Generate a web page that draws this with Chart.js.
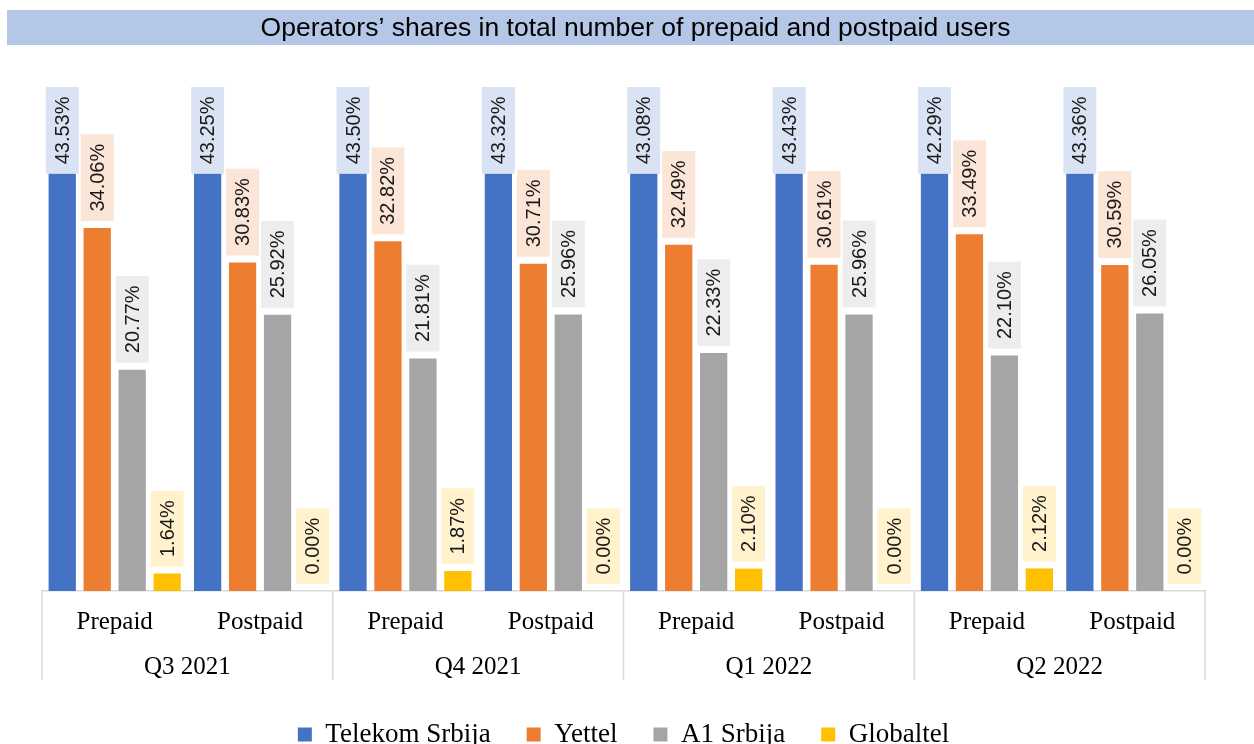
<!DOCTYPE html>
<html>
<head>
<meta charset="utf-8">
<script src="https://cdn.jsdelivr.net/npm/chart.js@4"></script>
<style>
  html, body { margin: 0; padding: 0; background: #fff; }
  #wrap { width: 1254px; height: 744px; }
</style>
</head>
<body>
<div id="wrap"><canvas id="shares"></canvas></div>
<script>
// Chart data.
const chartTitle = 'Operators’ shares in total number of prepaid and postpaid users';
const quarters = ['Q3 2021', 'Q4 2021', 'Q1 2022', 'Q2 2022'];
const userTypes = ['Prepaid', 'Postpaid'];
const operators = ['Telekom Srbija', 'Yettel', 'A1 Srbija', 'Globaltel'];

// Values per bar, in order Q3 pre, Q3 post, Q4 pre, Q4 post, ...
const telekomSrbija = [43.53, 43.25, 43.50, 43.32, 43.08, 43.43, 42.29, 43.36];
const yettel        = [34.06, 30.83, 32.82, 30.71, 32.49, 30.61, 33.49, 30.59];
const a1Srbija      = [20.77, 25.92, 21.81, 25.96, 22.33, 25.96, 22.10, 26.05];
const globaltel     = [1.64, 0.00, 1.87, 0.00, 2.10, 0.00, 2.12, 0.00];

const barColours   = ['#4472c4', '#ed7d31', '#a5a5a5', '#ffc000'];
const labelColours = ['#dae3f3', '#fbe5d6', '#ededed', '#fff2cc'];

// Every quarter has a prepaid and a postpaid bar group.
let xLabels = [];
quarters.forEach(function () {
  userTypes.forEach(function (t) { xLabels.push(t); });
});

let seriesValues = [telekomSrbija, yettel, a1Srbija, globaltel];
let datasets = operators.map(function (name, i) {
  return {
    label: name,
    data: seriesValues[i],
    backgroundColor: barColours[i],
    borderWidth: 0,
    categoryPercentage: 0.962,
    barPercentage: 0.78
  };
});

// Title band across the top.
const titleBand = {
  id: 'titleBand',
  beforeDraw: function (chart) {
    let ctx = chart.ctx;
    ctx.save();
    ctx.fillStyle = '#b4c7e7';
    ctx.fillRect(7, 10, chart.width - 7, 35);
    ctx.fillStyle = '#000';
    ctx.font = '26.5px "Liberation Sans"';
    ctx.textAlign = 'center';
    ctx.textBaseline = 'middle';
    ctx.fillText(chartTitle, (7 + chart.width) / 2 + 5, 29);
    ctx.restore();
  }
};

// Rotated value labels in a pale box above each bar.
const valueLabels = {
  id: 'valueLabels',
  afterDatasetsDraw: function (chart) {
    let ctx = chart.ctx;
    let top = chart.chartArea.top;
    ctx.save();
    ctx.font = '20px "Liberation Sans"';
    chart.data.datasets.forEach(function (ds, i) {
      let meta = chart.getDatasetMeta(i);
      meta.data.forEach(function (bar, j) {
        let text = ds.data[j].toFixed(2) + '%';
        let h = ctx.measureText(text).width + 19;
        let w = 33;
        let boxTop = bar.y - 7 - h;
        if (boxTop < top) boxTop = top;
        ctx.fillStyle = labelColours[i];
        ctx.fillRect(bar.x - w / 2, boxTop, w, h);
        ctx.save();
        ctx.translate(bar.x, boxTop + h / 2);
        ctx.rotate(-Math.PI / 2);
        ctx.fillStyle = '#1a1a1a';
        ctx.textAlign = 'center';
        ctx.textBaseline = 'middle';
        ctx.fillText(text, 0, 1);
        ctx.restore();
      });
    });
    ctx.restore();
  }
};

// Vertical dividers between the quarter groups, under the axis.
const groupLines = {
  id: 'groupLines',
  afterDraw: function (chart) {
    let ctx = chart.ctx;
    let area = chart.chartArea;
    let x = chart.scales.x;
    let n = userTypes.length;
    let edges = [area.left];
    for (let k = 1; k < quarters.length; k++) {
      edges.push((x.getPixelForValue(k * n - 1) + x.getPixelForValue(k * n)) / 2);
    }
    edges.push(area.right);
    ctx.save();
    ctx.strokeStyle = '#d9d9d9';
    ctx.lineWidth = 1.5;
    edges.forEach(function (ex) {
      ctx.beginPath();
      ctx.moveTo(ex, area.bottom);
      ctx.lineTo(ex, area.bottom + 89);
      ctx.stroke();
    });
    ctx.restore();
  }
};

let config = {
  type: 'bar',
  data: { labels: xLabels, datasets: datasets },
  options: {
    responsive: true,
    maintainAspectRatio: false,
    animation: false,
    layout: { padding: { top: 87, left: 42, right: 49, bottom: -14 } },
    scales: {
      y: { display: false, min: 0, max: 47.3 },
      x: {
        weight: 0,
        grid: { display: false, drawTicks: false },
        border: { display: true, color: '#d9d9d9', width: 1.5 },
        ticks: {
          padding: 16,
          color: '#000',
          maxRotation: 0,
          font: { family: '"Liberation Serif"', size: 25 }
        },
        afterFit: function (scale) { scale.height = 44; }
      },
      x2: {
        type: 'category',
        labels: quarters,
        position: 'bottom',
        weight: 1,
        grid: { display: false, drawTicks: false },
        border: { display: false },
        ticks: {
          padding: 17,
          color: '#000',
          maxRotation: 0,
          font: { family: '"Liberation Serif"', size: 25 }
        },
        afterFit: function (scale) { scale.height = 50; }
      }
    },
    plugins: {
      title: { display: false },
      tooltip: { enabled: false },
      legend: {
        display: true,
        position: 'bottom',
        labels: {
          boxWidth: 14,
          boxHeight: 14,
          padding: 36,
          color: '#000',
          font: { family: '"Liberation Serif"', size: 27 }
        }
      }
    }
  },
  plugins: [titleBand, valueLabels, groupLines]
};

let ctx = document.getElementById('shares').getContext('2d');
let sharesChart = new Chart(ctx, config);
</script>
</body>
</html>
